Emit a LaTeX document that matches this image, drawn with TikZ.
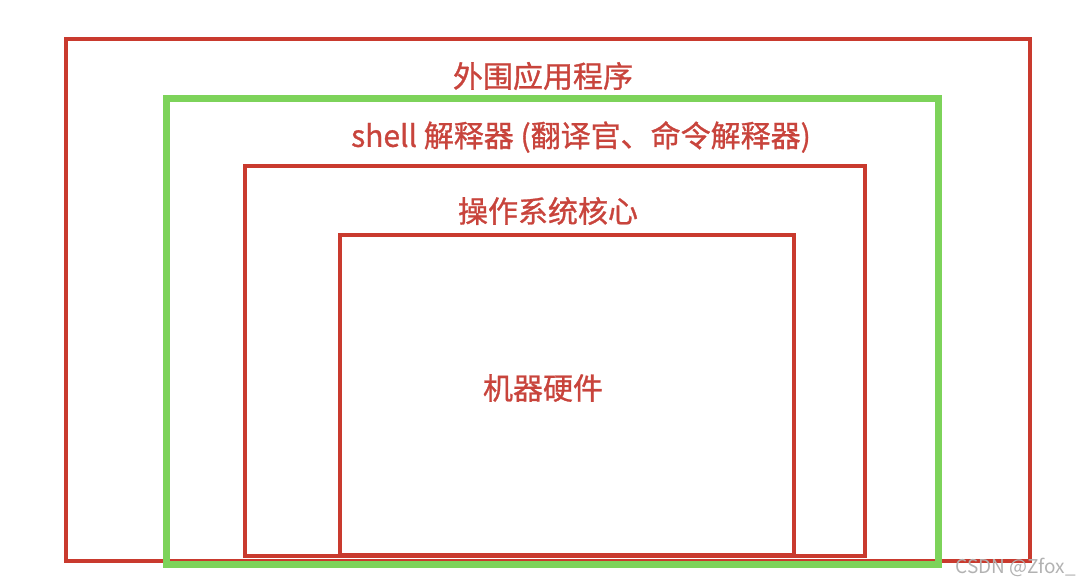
\documentclass[tikz,border=0pt]{standalone}
\usepackage{fontspec}
\setmainfont{Noto Sans CJK SC}
\newfontfamily\labelfont{Noto Sans CJK SC}[FakeBold=1]
\usepackage{tikz}
\definecolor{boxred}{HTML}{C93A2E}
\definecolor{txtred}{HTML}{C8443C}
\definecolor{boxgreen}{HTML}{7DD35A}
\begin{document}
\begin{tikzpicture}[x=1pt,y=1pt]
\tikzstyle{every node}+=[inner sep=0pt]
\tikzstyle{layer}=[draw=boxred, line width=4.5pt]
\tikzstyle{shelllayer}=[draw=boxgreen, line width=7pt]
\tikzstyle{label}=[text=txtred, font=\labelfont\fontsize{30}{34}\selectfont]
\useasboundingbox (0,0) rectangle (1080,-584);
\draw [layer] (66,-39) rectangle (1030,-561);
\draw [shelllayer] (166,-98) rectangle (938,-564);
\draw [layer] (245,-166) rectangle (865,-556);
\draw [layer] (340,-235) rectangle (794,-555);
\node [label] (apps) at (543,-76) {外围应用程序};
\node [label] (shell) at (581,-137) {shell 解释器 (翻译官、命令解释器)};
\node [label] (kernel) at (548,-211) {操作系统核心};
\node [label] (hw) at (543,-388) {机器硬件};
\node [text=gray!60, font=\fontsize{19}{22}\selectfont, anchor=east] (mark) at (1076,-567) {CSDN @Zfox\_};
\end{tikzpicture}
\end{document}
